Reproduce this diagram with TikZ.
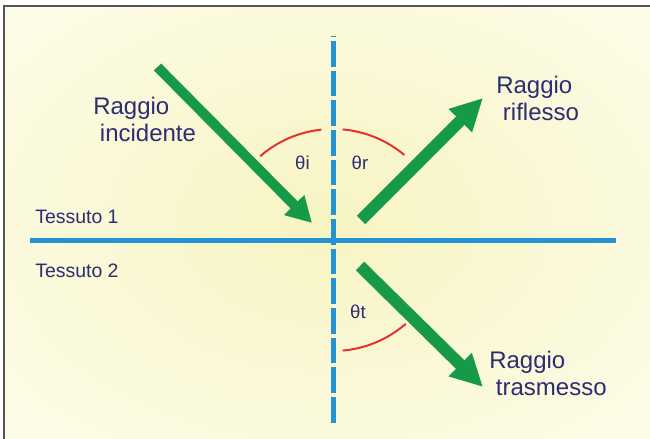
\documentclass[tikz,border=0pt]{standalone}
\usepackage{fontspec}
\setmainfont{Liberation Sans}
\usetikzlibrary{arrows.meta, calc}
\definecolor{inknavy}{HTML}{2E2C73}
\definecolor{inkgreen}{HTML}{179A48}
\definecolor{inkblue}{HTML}{2592D2}
\definecolor{inkred}{HTML}{E5322D}
\definecolor{glowin}{HTML}{F7F4C2}
\definecolor{glowout}{HTML}{FEFEF4}
\definecolor{inkframe}{HTML}{555555}
\pgfdeclareradialshading{glow}{\pgfpoint{0bp}{0bp}}{%
  color(0bp)=(glowin); color(16bp)=(glowin!65!glowout);
  color(45bp)=(glowout); color(100bp)=(glowout)}

\begin{document}
\begin{tikzpicture}[x=0.75pt, y=-0.75pt,
    lbl/.style={text=inknavy, font=\fontsize{18pt}{20.25pt}\selectfont,
                align=left, inner sep=0pt, anchor=base west},
    tissue/.style={text=inknavy, font=\fontsize{14.6pt}{17pt}\selectfont,
                   inner sep=0pt, anchor=base west},
    ang/.style={text=inknavy, font=\fontsize{14pt}{16pt}\selectfont,
                inner sep=0pt},
    ray/.style={inkgreen, line width=7.5pt,
                -{Triangle[length=19pt, width=20pt]}},
    fatray/.style={inkgreen, line width=9pt,
                   -{Triangle[length=24pt, width=23pt]}},
    angarc/.style={inkred, line width=1.5pt}]
  \useasboundingbox (0,0) rectangle (650,439);
  % background and frame
  \shade[shading=glow] (4,6) rectangle (650,439);
  \draw[inkframe, line width=1.5pt] (4,439) -- (4,6) -- (650,6);
  % interface and normal
  \coordinate (O) at (333,240);
  \coordinate (left) at (30,240);
  \coordinate (right) at (616,240);
  \coordinate (ntop) at (333,36);
  \coordinate (nbot) at (333,423);
  \draw[inkblue, line width=3.75pt] (left) -- (right);
  \draw[inkblue, line width=3.75pt, dash pattern=on 19.1pt off 3.15pt,
        dash phase=18.4pt] (ntop) -- (nbot);
  % angles
  \foreach \a/\b in {-131/-96, -85/-50, 49/85}{%
    \draw[angarc] (O) ++(\a:111) arc[start angle=\a, end angle=\b, radius=111];}
  \node[ang] (ti) at (302.5,163) {θi};
  \node[ang] (tr) at (360,163) {θr};
  \node[ang] (tt) at (358,312) {θt};
  % rays
  \coordinate (inc-s) at (157.5,67);
  \coordinate (inc-e) at (312,223);
  \coordinate (refl-s) at (361,220);
  \coordinate (refl-e) at (483,98);
  \coordinate (tras-s) at (360,266);
  \coordinate (tras-e) at (483,387);
  \draw[ray] (inc-s) -- (inc-e);
  \draw[fatray] (refl-s) -- (refl-e);
  \draw[fatray] (tras-s) -- (tras-e);
  % labels (base = last line)
  \node[lbl] (inc) at (93,141) {Raggio\\\hspace*{5pt}incidente};
  \node[lbl] (refl) at (496,120) {Raggio\\\hspace*{5pt}riflesso};
  \node[lbl] (tras) at (489,395) {Raggio\\\hspace*{5pt}trasmesso};
  \node[tissue] (t1) at (35,223) {Tessuto 1};
  \node[tissue] (t2) at (35,277) {Tessuto 2};
\end{tikzpicture}
\end{document}
